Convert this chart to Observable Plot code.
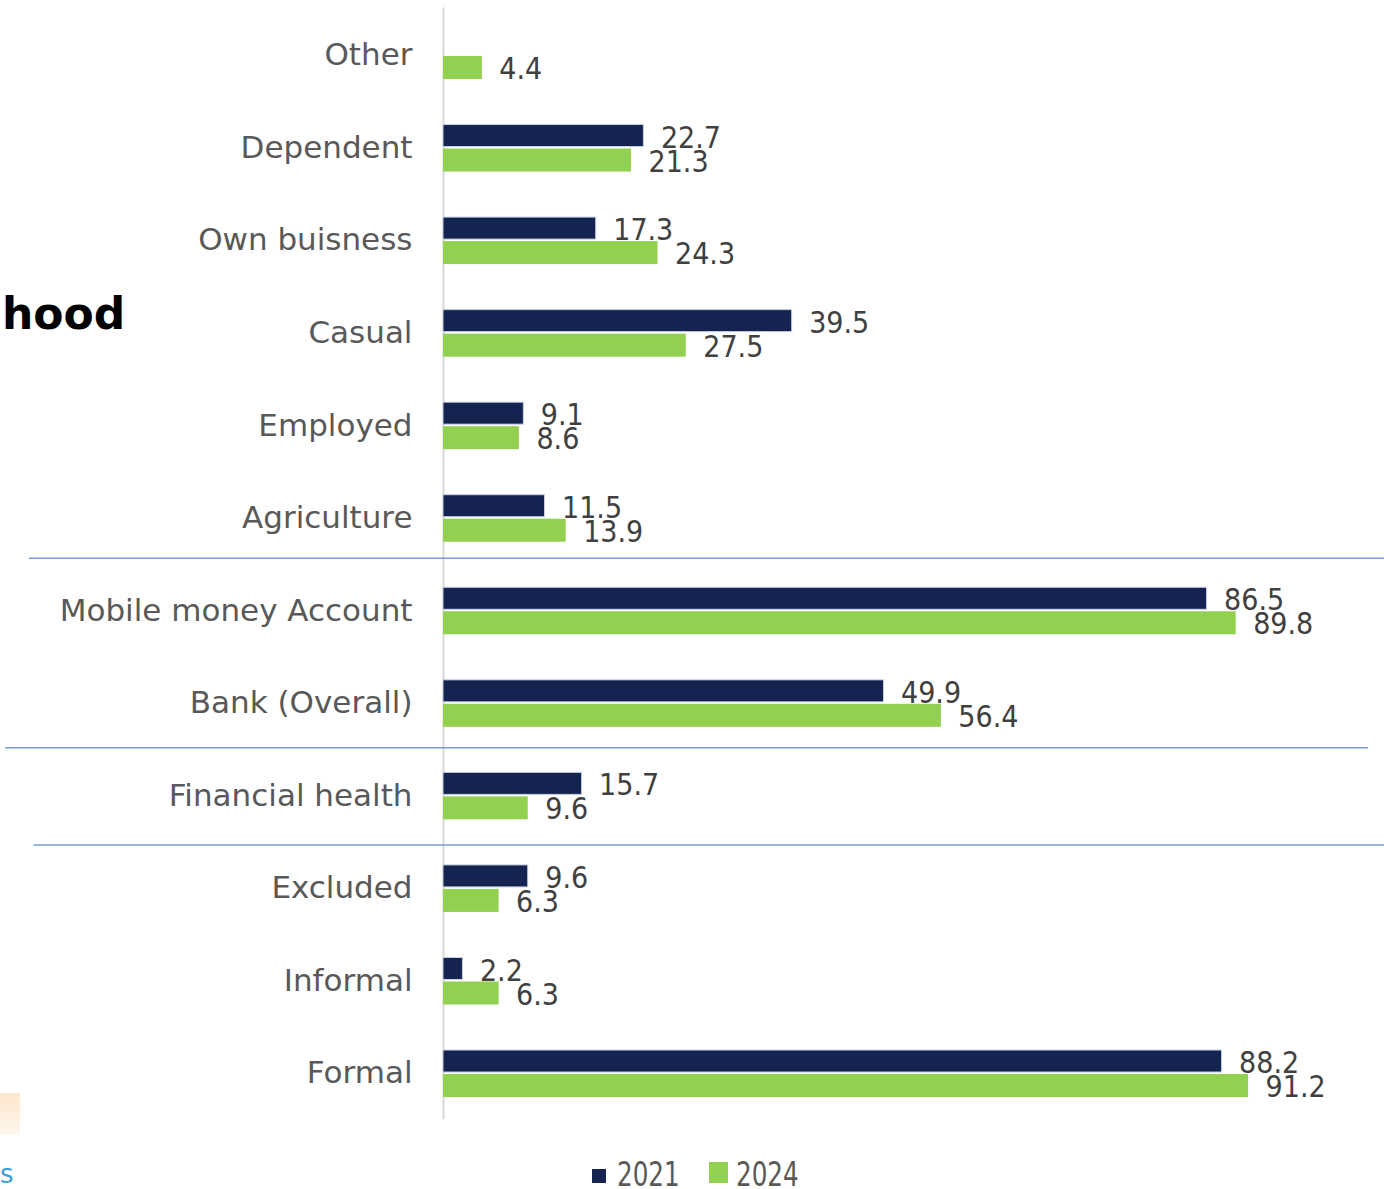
<!DOCTYPE html>
<html>
<head>
<meta charset="utf-8">
<script src="https://cdn.jsdelivr.net/npm/d3@7"></script>
<script src="https://cdn.jsdelivr.net/npm/@observablehq/plot@0.6"></script>
<style>
  html, body { margin: 0; padding: 0; background: #fff; width: 1384px; height: 1189px; overflow: hidden; position: relative; }
  #chart { position: absolute; left: 0; top: 0; }
  .frag { position: absolute; font-family: "DejaVu Sans", sans-serif; }
  #legend { position: absolute; left: 0; top: 0; }
  #legend .sw { position: absolute; }
  #legend .lab { position: absolute; font-family: "DejaVu Sans Condensed", "DejaVu Sans", sans-serif; font-size: 33px; line-height: 26px; color: #595959; transform: scaleX(0.83); transform-origin: left center; white-space: nowrap; }
</style>
</head>
<body>
<div id="chart"></div>
<div class="frag" style="left:2px; top:288px; font-size:44px; font-weight:bold; color:#000;">hood</div>
<div class="frag" style="left:0; top:1093px; width:20px; height:42px; background:linear-gradient(180deg,#fde6cc,#fff6ee);"></div>
<div class="frag" style="left:0; top:1161px; font-size:26px; line-height:26px; color:#3aa0d8;">s</div>
<div id="legend"></div>
<script>
const categories = ["Other","Dependent","Own buisness","Casual","Employed","Agriculture","Mobile money Account","Bank (Overall)","Financial health","Excluded","Informal","Formal"];
const years = ["2021", "2024"];
const values2021 = [null, 22.7, 17.3, 39.5, 9.1, 11.5, 86.5, 49.9, 15.7, 9.6, 2.2, 88.2];
const values2024 = [4.4, 21.3, 24.3, 27.5, 8.6, 13.9, 89.8, 56.4, 9.6, 6.3, 6.3, 91.2];
const colors = {"2021": "#14234f", "2024": "#92d050"};

const d21 = categories.map((c, i) => ({category: c, year: "2021", value: values2021[i]})).filter(d => d.value != null);
const d24 = categories.map((c, i) => ({category: c, year: "2024", value: values2024[i]})).filter(d => d.value != null);

const labelFont = "DejaVu Sans Condensed, DejaVu Sans, sans-serif";
const W = 1384, H = 1140, ML = 443, MT = 8.7, MB = 20.7;
const step = (H - MT - MB) / categories.length;
const half = step / 2;
const sepColor = "#7a9bd6";

const plot = Plot.plot({
  width: W,
  height: H,
  marginLeft: ML,
  marginRight: 0,
  marginTop: MT,
  marginBottom: MB,
  style: {fontFamily: "DejaVu Sans, sans-serif", background: "transparent", overflow: "visible"},
  x: {domain: [0, 106.6], axis: null},
  y: {domain: categories, padding: 0, round: false, label: null},
  marks: [
    Plot.axisY({tickSize: 0, tickPadding: 31, fontSize: 31, color: "#595959", label: null}),
    Plot.ruleX([0], {stroke: "#d9d9d9", strokeWidth: 2, y1: () => categories[0], y2: () => categories[categories.length - 1], insetTop: -1.3, insetBottom: 0}),
    Plot.barX(d21, {x: "value", y: "category", fill: colors["2021"], stroke: "#c8d0e4", strokeWidth: 1, insetTop: half - 23, insetBottom: half + 1}),
    Plot.barX(d24, {x: "value", y: "category", fill: colors["2024"], insetTop: half + 1, insetBottom: half - 24}),
    Plot.text(d21, {x: "value", y: "category", text: d => d.value.toFixed(1), textAnchor: "start", dx: 17, dy: -10, fontSize: 30, fill: "#404040", fontFamily: labelFont}),
    Plot.text(d24, {x: "value", y: "category", text: d => d.value.toFixed(1), textAnchor: "start", dx: 17, dy: 14, fontSize: 30, fill: "#404040", fontFamily: labelFont}),
    Plot.ruleY(["Agriculture"], {x1: -46.9, x2: 106.6, stroke: sepColor, strokeWidth: 1.5, dy: 40}),
    Plot.ruleY(["Bank (Overall)"], {x1: -49.6, x2: 104.8, stroke: sepColor, strokeWidth: 1.5, dy: 44.3}),
    Plot.ruleY(["Financial health"], {x1: -46.4, x2: 106.6, stroke: sepColor, strokeWidth: 1.5, dy: 49})
  ]
});
document.getElementById("chart").appendChild(plot);

// legend (below the SVG)
const legendLayout = [
  {year: "2021", sx: 592, sy: 1169, sw: 14, sh: 14, tx: 617},
  {year: "2024", sx: 709, sy: 1162, sw: 19, sh: 21, tx: 736}
];
const legend = document.getElementById("legend");
legendLayout.forEach(l => {
  const sw = document.createElement("div");
  sw.className = "sw";
  Object.assign(sw.style, {left: l.sx + "px", top: l.sy + "px", width: l.sw + "px", height: l.sh + "px", background: colors[l.year]});
  legend.appendChild(sw);
  const lab = document.createElement("div");
  lab.className = "lab";
  Object.assign(lab.style, {left: l.tx + "px", top: "1162px"});
  lab.textContent = l.year;
  legend.appendChild(lab);
});
</script>
</body>
</html>
